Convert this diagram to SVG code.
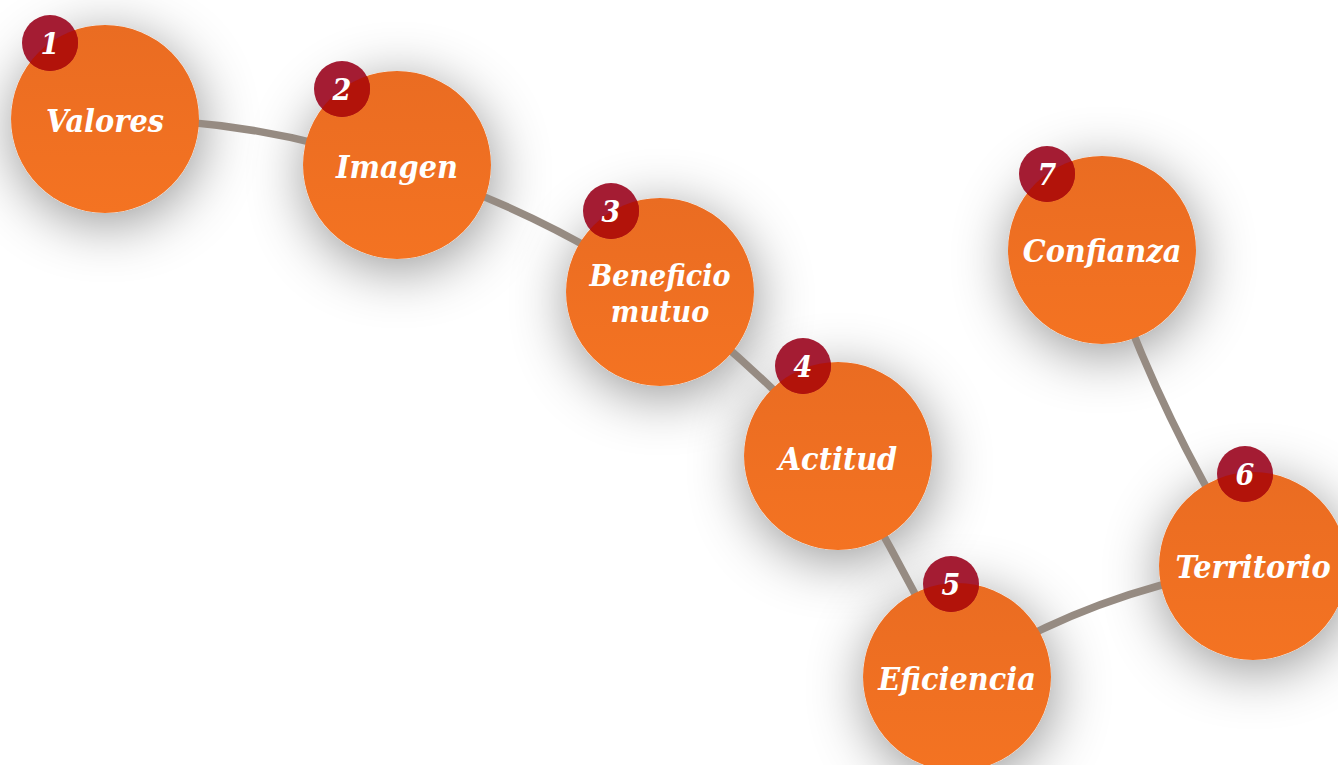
<svg xmlns="http://www.w3.org/2000/svg" width="1338" height="765" viewBox="0 0 1338 765">
<defs>
<style>
.node{fill:url(#og)}
.lbl{font-family:"DejaVu Serif Condensed","DejaVu Serif",serif;font-weight:bold;font-style:italic;font-size:32px;fill:#fff;text-anchor:middle}
.sm{font-size:30px}
.num{font-family:"DejaVu Serif Condensed","DejaVu Serif",serif;font-weight:bold;font-style:italic;font-size:30px;fill:#fff;text-anchor:middle}
.badge{fill:#a41c33}
.ov{fill:#b2130a}
.conn{fill:none;stroke:#968b82;stroke-width:7.5}
</style>
<linearGradient id="og" x1="0" y1="0" x2="0" y2="1">
<stop offset="0" stop-color="#ea6c22"/>
<stop offset="1" stop-color="#f47322"/>
</linearGradient>
<filter id="sh" x="-90%" y="-90%" width="280%" height="280%">
<feDropShadow dx="2" dy="10" stdDeviation="28" flood-color="#000" flood-opacity="0.42"/>
</filter>
<clipPath id="c1"><circle cx="105" cy="119" r="94"/></clipPath>
<clipPath id="c2"><circle cx="397" cy="165" r="94"/></clipPath>
<clipPath id="c3"><circle cx="660" cy="292" r="94"/></clipPath>
<clipPath id="c4"><circle cx="838" cy="456" r="94"/></clipPath>
<clipPath id="c5"><circle cx="957" cy="677" r="94"/></clipPath>
<clipPath id="c6"><circle cx="1253" cy="566" r="94"/></clipPath>
<clipPath id="c7"><circle cx="1102" cy="250" r="94"/></clipPath>
</defs>
<rect width="1338" height="765" fill="#fff"/>
<g id="shadows">
<circle cx="105" cy="119" r="94" fill="#fff" filter="url(#sh)"/>
<circle cx="397" cy="165" r="94" fill="#fff" filter="url(#sh)"/>
<circle cx="660" cy="292" r="94" fill="#fff" filter="url(#sh)"/>
<circle cx="838" cy="456" r="94" fill="#fff" filter="url(#sh)"/>
<circle cx="957" cy="677" r="94" fill="#fff" filter="url(#sh)"/>
<circle cx="1253" cy="566" r="94" fill="#fff" filter="url(#sh)"/>
<circle cx="1102" cy="250" r="94" fill="#fff" filter="url(#sh)"/>
</g>
<g id="connectors">
<path class="conn" d="M105,119 Q260,118 397,168"/>
<path class="conn" d="M397,165 Q540,210 660,292"/>
<path class="conn" d="M660,292 Q760,370 838,456"/>
<path class="conn" d="M838,456 Q900,560 957,677"/>
<path class="conn" d="M957,677 Q1090,590 1253,566"/>
<path class="conn" d="M1253,566 Q1160,420 1102,250"/>
</g>
<g id="node1">
<circle class="node" cx="105" cy="119" r="94"/>
<circle class="badge" cx="50" cy="43" r="28"/>
<circle class="ov" cx="50" cy="43" r="28" clip-path="url(#c1)"/>
<text class="num" x="50" y="54">1</text>
<text class="lbl" x="105" y="132">Valores</text>
</g>
<g id="node2">
<circle class="node" cx="397" cy="165" r="94"/>
<circle class="badge" cx="342" cy="89" r="28"/>
<circle class="ov" cx="342" cy="89" r="28" clip-path="url(#c2)"/>
<text class="num" x="342" y="100">2</text>
<text class="lbl" x="397" y="178">Imagen</text>
</g>
<g id="node3">
<circle class="node" cx="660" cy="292" r="94"/>
<circle class="badge" cx="611" cy="211" r="28"/>
<circle class="ov" cx="611" cy="211" r="28" clip-path="url(#c3)"/>
<text class="num" x="611" y="222">3</text>
<text class="lbl sm" x="660" y="286">Beneficio</text>
<text class="lbl sm" x="660" y="322">mutuo</text>
</g>
<g id="node4">
<circle class="node" cx="838" cy="456" r="94"/>
<circle class="badge" cx="803" cy="366" r="28"/>
<circle class="ov" cx="803" cy="366" r="28" clip-path="url(#c4)"/>
<text class="num" x="803" y="377">4</text>
<text class="lbl" x="838" y="470">Actitud</text>
</g>
<g id="node5">
<circle class="node" cx="957" cy="677" r="94"/>
<circle class="badge" cx="951" cy="584" r="28"/>
<circle class="ov" cx="951" cy="584" r="28" clip-path="url(#c5)"/>
<text class="num" x="951" y="595">5</text>
<text class="lbl" x="957" y="690">Eficiencia</text>
</g>
<g id="node6">
<circle class="node" cx="1253" cy="566" r="94"/>
<circle class="badge" cx="1245" cy="474" r="28"/>
<circle class="ov" cx="1245" cy="474" r="28" clip-path="url(#c6)"/>
<text class="num" x="1245" y="485">6</text>
<text class="lbl" x="1253" y="578">Territorio</text>
</g>
<g id="node7">
<circle class="node" cx="1102" cy="250" r="94"/>
<circle class="badge" cx="1047" cy="174" r="28"/>
<circle class="ov" cx="1047" cy="174" r="28" clip-path="url(#c7)"/>
<text class="num" x="1047" y="185">7</text>
<text class="lbl" x="1102" y="262">Confianza</text>
</g>
</svg>
